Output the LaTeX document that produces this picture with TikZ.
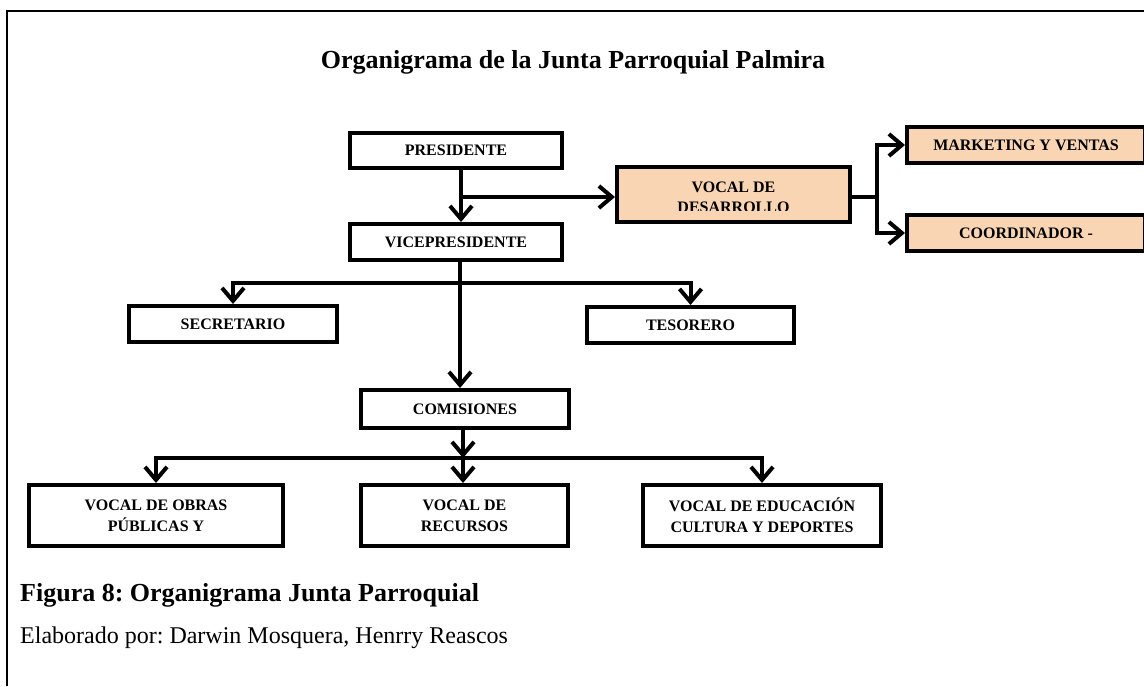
\documentclass[tikz,border=0pt]{standalone}
\usepackage{fontspec}
\setmainfont{Liberation Serif}
\usetikzlibrary{arrows.meta}
\definecolor{peach}{RGB}{250,213,180}
\frenchspacing
\begin{document}
\begin{tikzpicture}[x=1pt,y=-1pt,
  box/.style={draw,line width=4pt,rectangle,inner sep=0pt,font=\bfseries\fontsize{16}{21}\selectfont,align=center},
  conn/.style={line width=4pt},
  arr/.style={conn,-{Straight Barb[length=13pt,width=22pt]}}]
\useasboundingbox (0,0) rectangle (1144,686);
% frame
\draw[line width=2pt] (7,686) -- (7,11) -- (1146,11);
% title
\node[font=\bfseries\fontsize{26}{30}\selectfont] (title) at (573,62) {Organigrama de la Junta Parroquial Palmira};
% boxes
\node[box, minimum width=212pt, minimum height=35pt] (pres) at (456,150.5) {PRESIDENTE};
\node[box, minimum width=212pt, minimum height=36pt] (vice) at (456,242) {VICEPRESIDENTE};
\node[box, fill=peach, minimum width=233pt, minimum height=55pt] (desa) at (733.5,194.5) {};
\begin{scope}
\clip (619,169) rectangle (848,210);
\node[font=\bfseries\fontsize{16}{20}\selectfont, align=center, inner sep=0pt] (desatext) at (733.5,197.5) {VOCAL DE\\DESARROLLO};
\end{scope}
\node[box, fill=peach, minimum width=238pt, minimum height=36pt] (mark) at (1026,145) {MARKETING Y VENTAS};
\node[box, fill=peach, minimum width=238pt, minimum height=36pt] (coord) at (1026,233) {COORDINADOR -};
\node[box, minimum width=208pt, minimum height=36pt] (secr) at (233,324) {SECRETARIO};
\node[box, minimum width=207pt, minimum height=36pt] (teso) at (690.5,325) {TESORERO};
\node[box, minimum width=208pt, minimum height=38pt] (comi) at (465,409) {COMISIONES};
\node[box, minimum width=254pt, minimum height=61pt] (obras) at (156,515.5) {VOCAL DE OBRAS\\PÚBLICAS Y};
\node[box, minimum width=207pt, minimum height=61pt] (recu) at (464.5,515.5) {VOCAL DE\\RECURSOS};
\node[box, minimum width=238pt, minimum height=61pt] (educ) at (762,515.5) {VOCAL DE EDUCACIÓN\\CULTURA Y DEPORTES};
% connectors
\coordinate (j1) at (461,197);
\draw[arr] (pres.south -| j1) -- (vice.north -| j1);
\draw[arr] (j1) -- (j1 -| desa.west);
\coordinate (j2) at (877,197);
\draw[conn] (desa.east |- j2) -- (j2);
\draw[arr] (j2) |- (mark.west);
\draw[arr] (j2) |- (coord.west);
\coordinate (j5) at (460,283);
\draw[arr] (vice.south -| j5) -- (comi.north -| j5);
\draw[arr] (j5) -| (secr.north);
\draw[arr] (j5) -| (teso.north);
\coordinate (j6) at (463,458);
\draw[arr] (comi.south -| j6) -- (j6);
\draw[arr] (j6) -| (obras.north);
\draw[arr] (j6) -- (recu.north -| j6);
\draw[arr] (j6) -| (educ.north);
% caption
\node[anchor=west, font=\bfseries\fontsize{26}{30}\selectfont, inner sep=0pt] (cap) at (20,595) {Figura 8: Organigrama Junta Parroquial};
\node[anchor=west, font=\fontsize{24}{28}\selectfont, inner sep=0pt] (elab) at (20,638) {Elaborado por: Darwin Mosquera, Henrry Reascos};
\end{tikzpicture}
\end{document}
